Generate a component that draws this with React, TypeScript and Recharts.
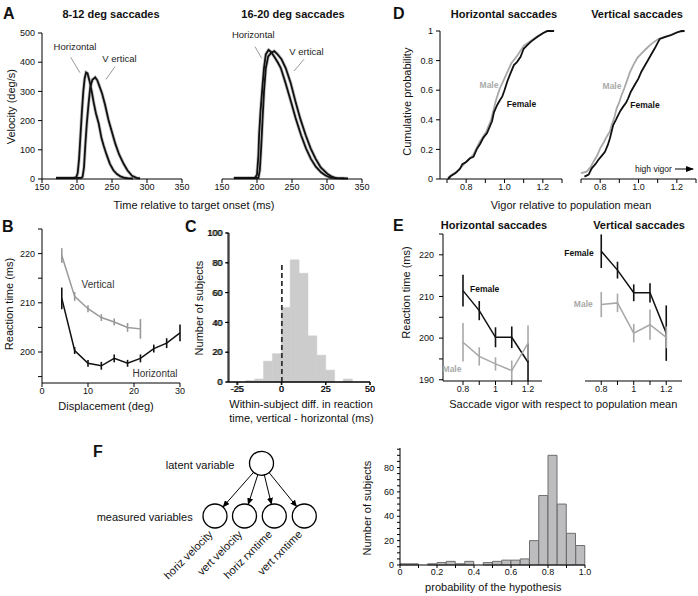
import React from "react";
import {
  LineChart,
  Line,
  XAxis,
  YAxis,
  BarChart,
  Bar,
  ErrorBar,
} from "recharts";

const FONT = '"Liberation Sans", Arial, Helvetica, sans-serif';

// A: mean velocity traces, [time (ms), velocity (deg/s)]
const smallHoriz = [
  [170, 4], [195, 4], [199, 6], [201, 20], [203, 70], [205, 150], [207, 230], [209, 300],
  [211, 345], [213, 365], [215, 362], [218, 335], [221, 300], [224, 260], [227, 225],
  [231, 190], [235, 140], [238, 115], [242, 85], [247, 52], [252, 30], [257, 17],
  [262, 9], [267, 5], [272, 3], [280, 2],
];
const smallVert = [
  [170, 4], [206, 4], [208, 8], [210, 40], [212, 121], [214, 190], [216.6, 260], [219, 315],
  [222, 340], [226, 348], [229, 338], [232, 318], [235.7, 294], [240, 255], [245, 202],
  [250, 160], [254.7, 121], [260, 85], [266.6, 52], [272, 30], [278.6, 11], [285, 4], [290, 2],
];
const largeHoriz = [
  [167, 4], [197, 4], [200, 15], [202, 80], [203, 150], [205, 230], [208, 323], [210, 380],
  [212.6, 427], [216.5, 442], [220, 435], [225, 418], [230, 398], [234, 380], [240, 335],
  [248.5, 265], [255, 210], [263, 150], [270, 105], [277, 69], [284, 42], [291.5, 23],
  [298, 12], [305, 5], [315, 3], [330, 2],
];
const largeVert = [
  [167, 4], [202, 4], [204, 30], [206, 110], [208, 208], [210, 300], [212.6, 380], [216, 420],
  [220, 432], [224.6, 438], [229, 428], [235, 410], [241, 380], [248, 330], [255, 265],
  [262, 205], [269.6, 150], [276.6, 105], [283.8, 69], [291, 40], [300.4, 18], [307, 8],
  [313, 3], [325, 2],
];

// B: reaction time vs displacement
const displacement = [4.3, 7.1, 10, 12.9, 15.7, 18.6, 21.4, 24.3, 27.1, 30];
const vertRT = [219.6, 211.3, 208.8, 207.0, 206.1, 205.0, 204.7];
const vertErr = [1.5, 0.9, 0.7, 0.7, 0.7, 0.9, 2.0];
const horizRT = [210.9, 200.3, 197.7, 197.2, 198.7, 197.7, 198.7, 200.7, 201.8, 203.9];
const horizErr = [2.2, 0.7, 0.7, 0.8, 0.8, 0.7, 0.8, 0.8, 1.0, 1.7];

// C: histogram of within-subject RT difference, 5 ms bins (bin starts)
const diffBins = [-30, -25, -20, -15, -10, -5, 0, 5, 10, 15, 20, 25, 30, 35, 40, 45];
const diffCounts = [0, 0, 1, 2, 14, 19, 50, 82, 73, 31, 18, 8, 0, 2, 0, 0];
const diffTicks = [-25, 0, 25, 50];
// dashed marker at zero difference, [x, count]
const zeroMarker = [[0, 0], [0, 80]];

// D: cumulative distributions of vigor, [vigor, probability]
const hFemale = [
  [0.705, 0], [0.72, 0.02], [0.745, 0.04], [0.768, 0.07], [0.78, 0.1], [0.8, 0.115],
  [0.82, 0.14], [0.838, 0.15], [0.855, 0.2], [0.874, 0.24], [0.89, 0.28], [0.909, 0.31],
  [0.925, 0.36], [0.935, 0.39], [0.945, 0.45], [0.962, 0.5], [0.975, 0.53], [0.988, 0.556],
  [1.0, 0.6], [1.014, 0.657], [1.03, 0.71], [1.049, 0.77], [1.065, 0.79], [1.084, 0.826],
  [1.1, 0.88], [1.119, 0.905], [1.14, 0.93], [1.172, 0.961], [1.2, 0.985], [1.225, 1], [1.258, 1],
];
const hMale = [
  [0.705, 0.01], [0.76, 0.06], [0.8, 0.115], [0.835, 0.16], [0.87, 0.25], [0.905, 0.32],
  [0.93, 0.4], [0.955, 0.53], [0.975, 0.61], [1.0, 0.68], [1.035, 0.78], [1.07, 0.84],
  [1.1, 0.9], [1.16, 0.955], [1.22, 1], [1.26, 1],
];
const vFemale = [
  [0.718, 0.016], [0.74, 0.03], [0.756, 0.072], [0.775, 0.1], [0.79, 0.128], [0.81, 0.16],
  [0.825, 0.184], [0.84, 0.23], [0.851, 0.275], [0.868, 0.365], [0.882, 0.4], [0.894, 0.432],
  [0.905, 0.46], [0.92, 0.489], [0.935, 0.515], [0.946, 0.545], [0.96, 0.59], [0.98, 0.635],
  [1.0, 0.68], [1.015, 0.725], [1.035, 0.77], [1.05, 0.804], [1.07, 0.85], [1.085, 0.883],
  [1.1, 0.92], [1.111, 0.946], [1.14, 0.96], [1.172, 0.973], [1.2, 0.99], [1.224, 1], [1.24, 1],
];
const vMale = [
  [0.7, 0.04], [0.73, 0.05], [0.75, 0.08], [0.765, 0.117], [0.785, 0.16], [0.8, 0.207],
  [0.82, 0.25], [0.834, 0.286], [0.85, 0.32], [0.86, 0.365], [0.875, 0.42], [0.886, 0.477],
  [0.9, 0.52], [0.912, 0.568], [0.925, 0.61], [0.938, 0.657], [0.955, 0.72], [0.973, 0.77],
  [0.995, 0.82], [1.016, 0.849], [1.04, 0.88], [1.06, 0.905], [1.08, 0.925], [1.103, 0.946],
  [1.15, 0.965], [1.2, 0.99], [1.24, 1],
];

// E: reaction time vs vigor
const vigor = [0.8, 0.9, 1.0, 1.1, 1.2];
const eHorizFemale = [211.4, 206.6, 200.2, 200.2, 194.2];
const eHorizFemaleErr = [3.8, 2.3, 2.4, 2.6, 4.5];
const eHorizMale = [199.0, 195.6, 193.8, 192.2, 198.8];
const eHorizMaleErr = [4.6, 2.2, 1.6, 2.4, 4.2];
const eVertFemale = [220.9, 216.4, 211.0, 211.0, 201.4];
const eVertFemaleErr = [4.0, 2.0, 2.0, 2.3, 6.6];
const eVertMale = [208.2, 208.6, 201.4, 203.4, 200.4];
const eVertMaleErr = [3.0, 2.2, 2.2, 3.6, 2.6];

// F: probability of the hypothesis, 0.05 bins (bin starts)
const probBins = [0, 0.05, 0.1, 0.15, 0.2, 0.25, 0.3, 0.35, 0.4, 0.45, 0.5, 0.55, 0.6, 0.65, 0.7, 0.75, 0.8, 0.85, 0.9, 0.95];
const probCounts = [1, 1, 0, 1, 2, 3, 1, 3, 0, 2, 3, 4, 4, 5, 20, 57, 90, 50, 26, 16];

const measuredNames = ["horiz velocity", "vert velocity", "horiz rxntime", "vert rxntime"];

const pts = (a: number[][]) => a.map(([x, y]) => ({ x, y }));
const withErr = (xs: number[], ys: number[], es: number[]) =>
  ys.map((y, i) => ({ x: xs[i], y, e: es[i] }));

const ax = {
  axisLine: { stroke: "#000", strokeWidth: 1 },
  tickLine: { stroke: "#000", strokeWidth: 1 },
  tick: { fontSize: 9, fill: "#111" },
  tickSize: 4,
  interval: 0 as const,
};

const Box = ({ x, y, children }: { x: number; y: number; children: React.ReactNode }) => (
  <div style={{ position: "absolute", left: x, top: y }}>{children}</div>
);

const velLines = (h: number[][], v: number[][]) => [
  <Line key="hg" data={pts(h)} dataKey="y" dot={false} stroke="#c6c6c6" strokeWidth={3.4} isAnimationActive={false} />,
  <Line key="vg" data={pts(v)} dataKey="y" dot={false} stroke="#c6c6c6" strokeWidth={3.4} isAnimationActive={false} />,
  <Line key="h" data={pts(h)} dataKey="y" dot={false} stroke="#111" strokeWidth={1.8} isAnimationActive={false} />,
  <Line key="v" data={pts(v)} dataKey="y" dot={false} stroke="#111" strokeWidth={1.8} isAnimationActive={false} />,
];

const errLine = (key: string, data: any[], color: string) => (
  <Line key={key} data={data} dataKey="y" dot={false} stroke={color} strokeWidth={1.5} isAnimationActive={false}>
    <ErrorBar dataKey="e" width={0} stroke={color} strokeWidth={1.6} direction="y" />
  </Line>
);

const tenths = (keep: number[], fixed: boolean) => (v: number) => {
  const k = Math.round(v * 10);
  if (!keep.includes(k)) return "";
  return fixed ? v.toFixed(1) : String(Math.round(v * 10) / 10);
};

// panel C is plotted on a shifted (non-negative) axis; labels are shifted back
const C_SHIFT = 30;

export default function App() {
  // bars are centred on the middle of each bin
  const cData = diffBins.map((b, i) => ({ x: b + 2.5 + C_SHIFT, count: diffCounts[i] }));
  const cMarker = zeroMarker.map(([x, y]) => ({ x: x + C_SHIFT, y }));
  const fData = probBins.map((b, i) => ({ x: b + 0.025, count: probCounts[i] }));
  const latent = { x: 261.5, y: 463.3 };
  const mY = 516;
  const mXs = [215, 244.5, 274.3, 304.3];
  const r = 12;

  return (
    <div
      style={{
        position: "absolute",
        left: 0,
        top: 0,
        width: 698,
        height: 596,
        background: "#fff",
        overflow: "hidden",
        fontFamily: FONT,
      }}
    >
      {/* A */}
      <Box x={0} y={0}>
        <LineChart width={194} height={199} margin={{ top: 33, right: 12, bottom: 0, left: 0 }}>
          <XAxis dataKey="x" type="number" domain={[150, 350]} ticks={[150, 200, 250, 300, 350]} height={20} tickMargin={1} {...ax} />
          <YAxis type="number" domain={[0, 500]} ticks={[0, 100, 200, 300, 400, 500]} width={42} tickMargin={3} {...ax} />
          {velLines(smallHoriz, smallVert)}
        </LineChart>
      </Box>
      <Box x={212} y={0}>
        <LineChart width={164} height={199} margin={{ top: 33, right: 14, bottom: 0, left: 10 }}>
          <XAxis dataKey="x" type="number" domain={[150, 350]} ticks={[150, 200, 250, 300, 350]} height={20} tickMargin={1} {...ax} />
          <YAxis type="number" domain={[0, 500]} hide />
          {velLines(largeHoriz, largeVert)}
        </LineChart>
      </Box>

      {/* D */}
      <Box x={400} y={0}>
        <LineChart width={168} height={199} margin={{ top: 31, right: 6, bottom: 0, left: 0 }}>
          <XAxis dataKey="x" type="number" domain={[0.7, 1.3]} padding={{ left: 7 }} ticks={[0.7, 0.8, 0.9, 1, 1.1, 1.2, 1.3]} tickFormatter={tenths([8, 10, 12], true)} height={20} tickMargin={1} {...ax} />
          <YAxis type="number" domain={[0, 1]} ticks={[0, 0.2, 0.4, 0.6, 0.8, 1]} width={40} tickMargin={3} {...ax} />
          <Line data={pts(hMale)} dataKey="y" dot={false} stroke="#a8a8a8" strokeWidth={1.8} isAnimationActive={false} />
          <Line data={pts(hFemale)} dataKey="y" dot={false} stroke="#111" strokeWidth={1.8} isAnimationActive={false} />
        </LineChart>
      </Box>
      <Box x={570} y={0}>
        <LineChart width={128} height={199} margin={{ top: 31, right: 2, bottom: 0, left: 11 }}>
          <XAxis dataKey="x" type="number" domain={[0.7, 1.3]} ticks={[0.7, 0.8, 0.9, 1, 1.1, 1.2, 1.3]} tickFormatter={tenths([8, 10, 12], true)} height={20} tickMargin={1} {...ax} />
          <YAxis type="number" domain={[0, 1]} hide />
          <Line data={pts(vMale)} dataKey="y" dot={false} stroke="#a8a8a8" strokeWidth={1.8} isAnimationActive={false} />
          <Line data={pts(vFemale)} dataKey="y" dot={false} stroke="#111" strokeWidth={1.8} isAnimationActive={false} />
        </LineChart>
      </Box>

      {/* B */}
      <Box x={0} y={200}>
        <LineChart width={185} height={203} margin={{ top: 29, right: 5, bottom: 0, left: 0 }}>
          <XAxis dataKey="x" type="number" domain={[0, 30]} ticks={[0, 10, 20, 30]} height={20} tickMargin={1} {...ax} />
          <YAxis type="number" domain={[193.7, 225]} ticks={[195, 200, 205, 210, 215, 220, 225]} tickFormatter={(v: number) => (v % 10 === 0 ? String(v) : "")} width={42} tickMargin={3} {...ax} />
          {errLine("v", withErr(displacement, vertRT, vertErr), "#999")}
          {errLine("h", withErr(displacement, horizRT, horizErr), "#111")}
        </LineChart>
      </Box>

      {/* C: bars */}
      <Box x={190} y={200}>
        <BarChart width={185} height={202} data={cData} barCategoryGap={0} barGap={0} margin={{ top: 33, right: 5, bottom: 0, left: 0 }}>
          <XAxis dataKey="x" type="number" domain={[0, 80]} ticks={diffTicks.map((t) => t + C_SHIFT)} tickFormatter={(v: number) => String(v - C_SHIFT)} height={20} tickMargin={1} {...ax} tickSize={3} />
          <YAxis type="number" dataKey="count" domain={[0, 100]} ticks={[0, 20, 40, 60, 80, 100]} tickFormatter={(v: number) => String(v)} width={38} tickMargin={3} {...ax} tickSize={3} />
          <Bar dataKey="count" fill="#cccccc" stroke="#cccccc" strokeWidth={0.5} isAnimationActive={false} />
        </BarChart>
      </Box>
      {/* C: axes and zero marker, on a wider chart with the same plot area */}
      <Box x={150} y={200}>
        <LineChart width={225} height={202} margin={{ top: 33, right: 5, bottom: 0, left: 41 }}>
          <XAxis dataKey="x" type="number" domain={[0, 80]} ticks={diffTicks.map((t) => t + C_SHIFT)} tickFormatter={(v: number) => String(v - C_SHIFT)} height={20} tickMargin={1} {...ax} tickSize={3} />
          <YAxis type="number" domain={[0, 100]} ticks={[0, 20, 40, 60, 80, 100]} tickFormatter={(v: number) => String(v)} width={38} tickMargin={3} {...ax} tickSize={3} />
          <Line data={cMarker} dataKey="y" dot={false} stroke="#333" strokeWidth={1.8} strokeDasharray="5 3" isAnimationActive={false} />
        </LineChart>
      </Box>

      {/* E */}
      <Box x={400} y={200}>
        <LineChart width={147} height={201} margin={{ top: 34, right: 5, bottom: 0, left: 0 }}>
          <XAxis dataKey="x" type="number" domain={[0.677, 1.286]} ticks={[0.8, 0.9, 1, 1.1, 1.2]} tickFormatter={tenths([8, 10, 12], false)} height={20} tickMargin={1} {...ax} />
          <YAxis type="number" domain={[190, 225]} ticks={[190, 195, 200, 205, 210, 215, 220, 225]} tickFormatter={(v: number) => (v % 10 === 0 ? String(v) : "")} width={43} tickMargin={5} {...ax} />
          {errLine("f", withErr(vigor, eHorizFemale, eHorizFemaleErr), "#111")}
          {errLine("m", withErr(vigor, eHorizMale, eHorizMaleErr), "#a8a8a8")}
        </LineChart>
      </Box>
      <Box x={575} y={200}>
        <LineChart width={115} height={201} margin={{ top: 34, right: 8, bottom: 0, left: 10 }}>
          <XAxis dataKey="x" type="number" domain={[0.7, 1.297]} ticks={[0.8, 0.9, 1, 1.1, 1.2]} tickFormatter={tenths([8, 10, 12], false)} height={20} tickMargin={1} {...ax} />
          <YAxis type="number" domain={[190, 225]} hide />
          {errLine("f", withErr(vigor, eVertFemale, eVertFemaleErr), "#111")}
          {errLine("m", withErr(vigor, eVertMale, eVertMaleErr), "#a8a8a8")}
        </LineChart>
      </Box>

      {/* F histogram */}
      <Box x={362} y={430}>
        <BarChart width={231} height={155} data={fData} barCategoryGap={0} barGap={0} margin={{ top: 18, right: 8, bottom: 0, left: 0 }}>
          <XAxis dataKey="x" type="number" domain={[0, 1]} ticks={[0, 0.1, 0.2, 0.3, 0.4, 0.5, 0.6, 0.7, 0.8, 0.9, 1]} tickFormatter={(v: number) => { const k = Math.round(v * 10); return k === 0 ? "0" : k % 2 === 0 ? v.toFixed(1) : ""; }} height={20} tickMargin={1} {...ax} tickSize={3} />
          <YAxis type="number" dataKey="count" domain={[0, 96]} ticks={[0, 5, 10, 15, 20, 25, 30, 35, 40, 45, 50, 55, 60, 65, 70, 75, 80, 85, 90, 95]} tickFormatter={(v: number) => (v % 20 === 0 ? String(v) : "")} width={38} tickMargin={3} {...ax} tickSize={3} />
          <Bar dataKey="count" fill="#bdbdbf" stroke="#6e6e6e" strokeWidth={1} isAnimationActive={false} />
        </BarChart>
      </Box>

      {/* text, annotations and the F diagram */}
      <svg width={698} height={596} style={{ position: "absolute", left: 0, top: 0, pointerEvents: "none" }} fontFamily={FONT}>
        <defs>
          <marker id="ah" markerWidth="7" markerHeight="6" refX="6" refY="3" orient="auto" markerUnits="userSpaceOnUse">
            <path d="M0,0 L7,3 L0,6 z" fill="#000" />
          </marker>
          <marker id="ah2" markerWidth="8" markerHeight="6" refX="7" refY="3" orient="auto" markerUnits="userSpaceOnUse">
            <path d="M0,0 L8,3 L0,6 z" fill="#000" />
          </marker>
        </defs>

        <g fontWeight="bold" fontSize={16} fill="#111">
          <text x={3} y={18.5}>A</text>
          <text x={2} y={232}>B</text>
          <text x={185} y={232}>C</text>
          <text x={393} y={18.5}>D</text>
          <text x={393} y={231}>E</text>
          <text x={93} y={457}>F</text>
        </g>

        <g fontWeight="bold" fontSize={11} fill="#111" textAnchor="middle">
          <text x={111} y={18}>8-12 deg saccades</text>
          <text x={293} y={18}>16-20 deg saccades</text>
          <text x={504} y={18}>Horizontal saccades</text>
          <text x={637} y={18}>Vertical saccades</text>
          <text x={494} y={228.5}>Horizontal saccades</text>
          <text x={639} y={228.5}>Vertical saccades</text>
        </g>

        <g fontSize={11} fill="#111" textAnchor="middle">
          <text x={14.7} y={106.7} transform="rotate(-90 14.7 106.7)">Velocity (deg/s)</text>
          <text x={411.3} y={101.7} transform="rotate(-90 411.3 101.7)">Cumulative probability</text>
          <text x={13} y={304} transform="rotate(-90 13 304)">Reaction time (ms)</text>
          <text x={203} y={308} transform="rotate(-90 203 308)">Number of subjects</text>
          <text x={409.7} y={292.5} transform="rotate(-90 409.7 292.5)">Reaction time (ms)</text>
          <text x={371.3} y={508} transform="rotate(-90 371.3 508)">Number of subjects</text>
          <text x={194} y={208.5}>Time relative to target onset (ms)</text>
          <text x={571} y={208.5}>Vigor relative to population mean</text>
          <text x={106} y={409.5}>Displacement (deg)</text>
          <text x={563.3} y={408}>Saccade vigor with respect to population mean</text>
          <text x={493.3} y={591}>probability of the hypothesis</text>
        </g>
        <g fontSize={11} fill="#111">
          <text x={229.3} y={408}>Within-subject diff. in reaction</text>
          <text x={229.3} y={422.2}>time, vertical - horizontal (ms)</text>
        </g>

        {/* A annotations */}
        <g fontSize={9.5} fill="#222" textAnchor="middle">
          <text x={75} y={50}>Horizontal</text>
          <text x={119.5} y={62}>V ertical</text>
          <text x={253.3} y={37.5}>Horizontal</text>
          <text x={306.5} y={55}>V ertical</text>
        </g>
        <g stroke="#999" strokeWidth={1}>
          <line x1={70.7} y1={57.3} x2={80} y2={72.7} />
          <line x1={115} y1={66.7} x2={106} y2={79.3} />
          <line x1={255} y1={46.7} x2={261.7} y2={58.3} />
          <line x1={304} y1={59.3} x2={294} y2={71} />
        </g>

        {/* B annotations */}
        <g fontSize={10} fill="#333" textAnchor="middle">
          <text x={98} y={288}>Vertical</text>
          <text x={155} y={377}>Horizontal</text>
        </g>

        {/* D and E annotations */}
        <g fontSize={8.5} fontWeight="bold" textAnchor="middle">
          <text x={489} y={87.5} fill="#aaa">Male</text>
          <text x={521.5} y={107} fill="#111">Female</text>
          <text x={612} y={88.5} fill="#aaa">Male</text>
          <text x={645} y={108} fill="#111">Female</text>
          <text x={484.7} y={292} fill="#111">Female</text>
          <text x={452} y={372} fill="#aaa">Male</text>
          <text x={579} y={256} fill="#111">Female</text>
          <text x={583.3} y={306.7} fill="#aaa">Male</text>
        </g>
        <text x={635} y={171.5} fontSize={8.5} fill="#111">high vigor</text>
        <line x1={675} y1={169} x2={693} y2={169} stroke="#000" strokeWidth={1} markerEnd="url(#ah2)" />

        {/* F diagram */}
        <g fontSize={11} fill="#111" textAnchor="end">
          <text x={234.3} y={469}>latent variable</text>
          <text x={192.7} y={521}>measured variables</text>
        </g>
        {mXs.map((mx, i) => {
          const dx = mx - latent.x;
          const dy = mY - latent.y;
          const d = Math.hypot(dx, dy);
          const ux = dx / d;
          const uy = dy / d;
          return (
            <line
              key={"a" + i}
              x1={latent.x + ux * r}
              y1={latent.y + uy * r}
              x2={mx - ux * (r + 0.5)}
              y2={mY - uy * (r + 0.5)}
              stroke="#000"
              strokeWidth={1}
              markerEnd="url(#ah)"
            />
          );
        })}
        <circle cx={latent.x} cy={latent.y} r={r} fill="#fff" stroke="#000" strokeWidth={1.3} />
        {mXs.map((mx, i) => (
          <g key={"m" + i}>
            <circle cx={mx} cy={mY} r={r} fill="#fff" stroke="#000" strokeWidth={1.3} />
            <text
              x={mx - 1.5}
              y={mY + 19}
              fontSize={11}
              fill="#111"
              textAnchor="end"
              transform={`rotate(-45 ${mx - 1.5} ${mY + 19})`}
            >
              {measuredNames[i]}
            </text>
          </g>
        ))}
      </svg>
    </div>
  );
}
